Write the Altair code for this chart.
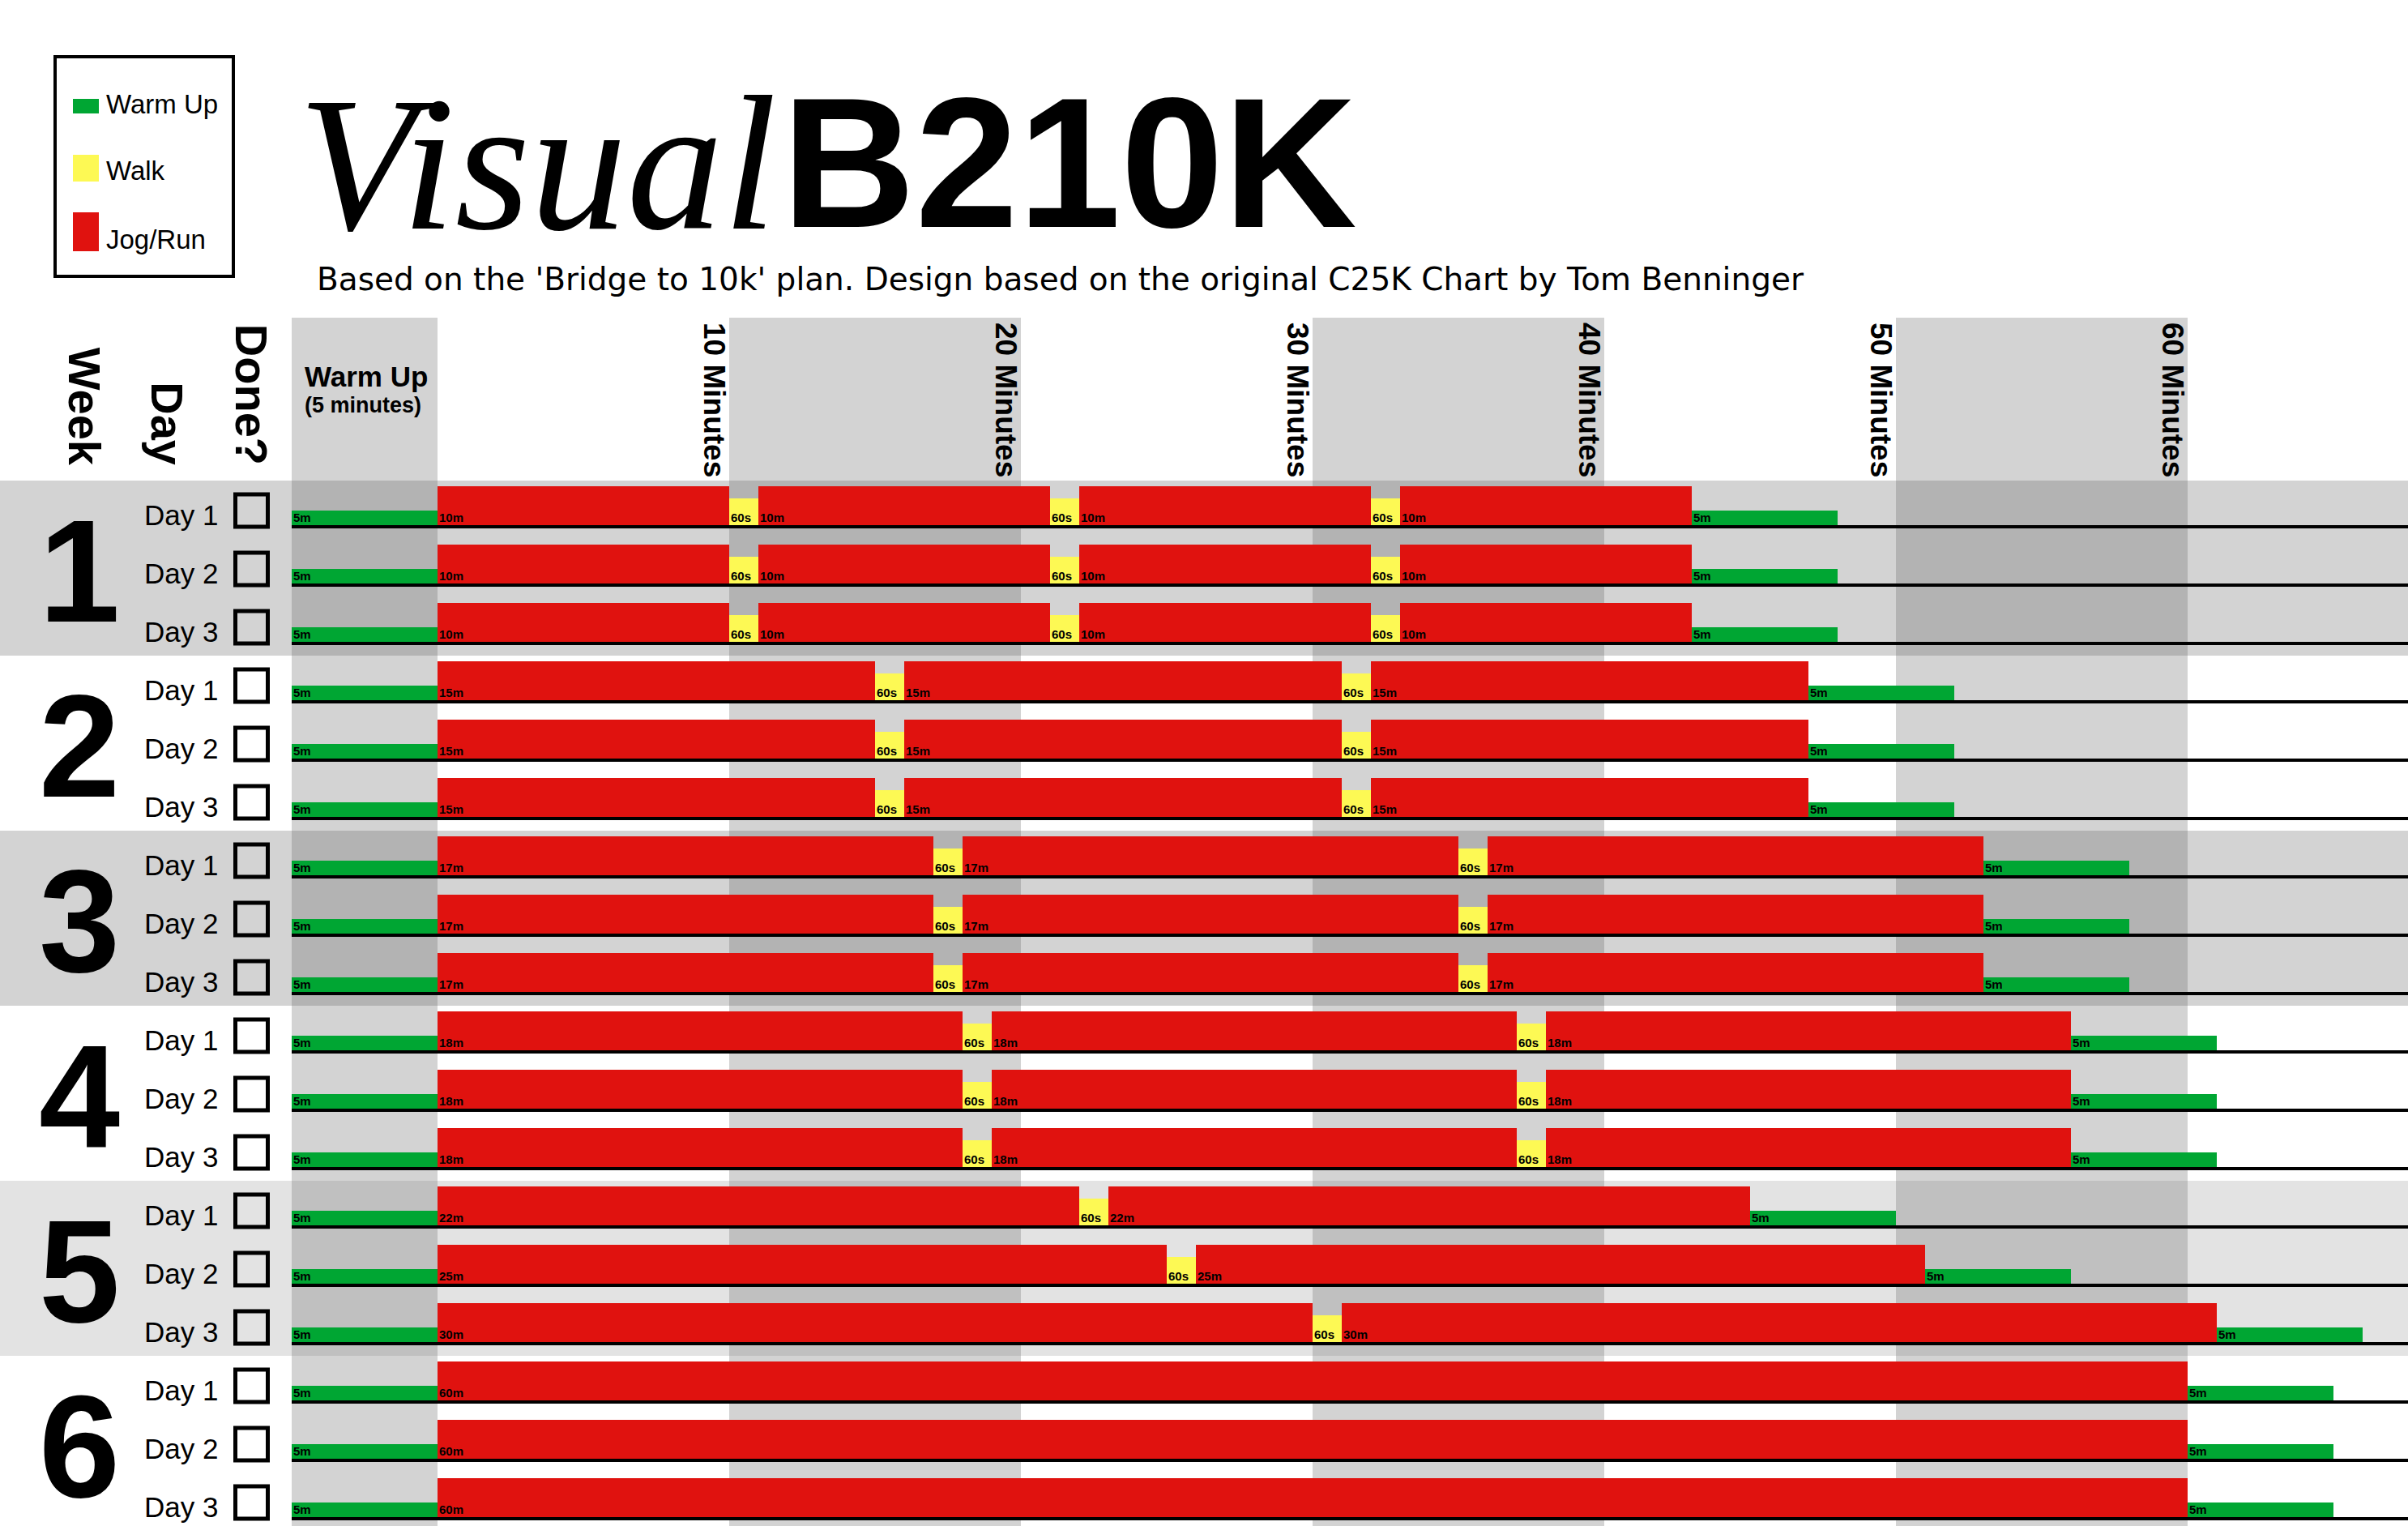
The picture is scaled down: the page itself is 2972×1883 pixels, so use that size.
import altair as alt
import pandas as pd

# ------------------------------------------------------------------ data
WEEKS = [1, 2, 3, 4, 5, 6]
DAY_LABELS = ["Day 1", "Day 2", "Day 3"]
SEGMENT_TYPES = ["Warm Up", "Walk", "Jog/Run"]
SEGMENT_COLORS = ["#00a633", "#fdf954", "#e0120f"]
WARMUP_MINUTES = 5
COOLDOWN_MINUTES = 5
WALK_MINUTES = 1
WALK_LABEL = "60s"
W1_RUNS = [10, 10, 10, 10]
W2_RUNS = [15, 15, 15]
W3_RUNS = [17, 17, 17]
W4_RUNS = [18, 18, 18]
W5_DAY1_RUNS = [22, 22]
W5_DAY2_RUNS = [25, 25]
W5_DAY3_RUNS = [30, 30]
W6_RUNS = [60]
SCHEDULE = [
    [W1_RUNS, W1_RUNS, W1_RUNS],
    [W2_RUNS, W2_RUNS, W2_RUNS],
    [W3_RUNS, W3_RUNS, W3_RUNS],
    [W4_RUNS, W4_RUNS, W4_RUNS],
    [W5_DAY1_RUNS, W5_DAY2_RUNS, W5_DAY3_RUNS],
    [W6_RUNS, W6_RUNS, W6_RUNS],
]
MINUTE_MARKS = [10, 20, 30, 40, 50, 60]
SHADED_COLUMN_STARTS = [-5, 10, 30, 50]
SHADED_COLUMN_ENDS = [0, 20, 40, 60]
SHADED_WEEKS = [1, 3, 5]
HEADER_WORDS = ["Week", "Day", "Done?"]
WARMUP_HEADER = ["Warm Up", "(5 minutes)"]
TITLE_SCRIPT = "Visual"
TITLE_BOLD = "B210K"
SUBTITLE = ("Based on the 'Bridge to 10k' plan. Design based on the "
            "original C25K Chart by Tom Benninger")

# ------------------------------------------------------------------ layout / style
W, H = 2972, 1883
PX_PER_MIN = 36.0
X_ZERO = 540.0
ROW_PX = 72.0
BODY_TOP = 593.0
HEADER_TOP = 392.0
FONT = "Liberation Sans"
BAR_TOP_PX = {"Jog/Run": 7, "Walk": 22, "Warm Up": 37}
BAR_BOTTOM_PX = 55
LINE_PX = 57
BOX_CENTER_PX = 37
BAND_FILL = {1: "#d3d3d3", 3: "#d3d3d3", 5: "#e3e3e3"}
CROSS_FILL = {1: "#b3b3b3", 3: "#b3b3b3", 5: "#c0c0c0"}
STRIPE_FILL = "#d3d3d3"

XS = alt.Scale(domain=[-X_ZERO / PX_PER_MIN, (W - X_ZERO) / PX_PER_MIN], nice=False, zero=False)
YS = alt.Scale(domain=[-BODY_TOP / ROW_PX, (H - BODY_TOP) / ROW_PX], nice=False, zero=False,
               reverse=True)


def X(f):
    return alt.X(f, type="quantitative", scale=XS, axis=None)


def X2(f):
    return alt.X2(f)


def Y(f):
    return alt.Y(f, type="quantitative", scale=YS, axis=None)


def Y2(f):
    return alt.Y2(f)


# ------------------------------------------------------------------ tables
seg_rows, day_rows = [], []
for wi, week in enumerate(SCHEDULE):
    for di, runs in enumerate(week):
        r = wi * 3 + di
        segs = [("Warm Up", WARMUP_MINUTES, f"{WARMUP_MINUTES}m")]
        for k, m in enumerate(runs):
            if k:
                segs.append(("Walk", WALK_MINUTES, WALK_LABEL))
            segs.append(("Jog/Run", m, f"{m}m"))
        segs.append(("Warm Up", COOLDOWN_MINUTES, f"{COOLDOWN_MINUTES}m"))
        t = -WARMUP_MINUTES
        for kind, m, lab in segs:
            seg_rows.append(dict(row=r, kind=kind, start=t, end=t + m, label=lab,
                                 top=r + BAR_TOP_PX[kind] / ROW_PX,
                                 bottom=r + BAR_BOTTOM_PX / ROW_PX))
            t += m
        day_rows.append(dict(row=r, day=DAY_LABELS[di], start=-WARMUP_MINUTES,
                             line=r + LINE_PX / ROW_PX,
                             base=r + BAR_BOTTOM_PX / ROW_PX,
                             box=r + BOX_CENTER_PX / ROW_PX))
segs_df = pd.DataFrame(seg_rows)
days_df = pd.DataFrame(day_rows)

weeks_df = pd.DataFrame(dict(week=[str(w) for w in WEEKS],
                             y0=[i * 3 for i in range(len(WEEKS))],
                             y1=[i * 3 + 3 for i in range(len(WEEKS))],
                             mid=[i * 3 + 1.5 for i in range(len(WEEKS))]))
cols_df = pd.DataFrame(dict(c0=SHADED_COLUMN_STARTS, c1=SHADED_COLUMN_ENDS))

band_rows, cross_rows = [], []
for w in SHADED_WEEKS:
    i = WEEKS.index(w)
    band_rows.append(dict(y0=i * 3, y1=i * 3 + 3, fill=BAND_FILL[w]))
    for c0, c1 in zip(SHADED_COLUMN_STARTS, SHADED_COLUMN_ENDS):
        cross_rows.append(dict(y0=i * 3, y1=i * 3 + 3, c0=c0, c1=c1, fill=CROSS_FILL[w]))
bands_df = pd.DataFrame(band_rows)
cross_df = pd.DataFrame(cross_rows)
marks_df = pd.DataFrame(dict(minute=MINUTE_MARKS, label=[f"{m} Minutes" for m in MINUTE_MARKS]))
one = pd.DataFrame({"a": [0]})

layers = []

# column stripes (header + body)
layers.append(alt.Chart(cols_df).mark_rect(color=STRIPE_FILL).encode(
    x=X("c0"), x2=X2("c1"), y=alt.value(HEADER_TOP), y2=alt.value(H)))
# week bands
layers.append(alt.Chart(bands_df).mark_rect().encode(
    x=alt.value(0), x2=alt.value(W), y=Y("y0"), y2=Y2("y1"),
    color=alt.Color("fill:N", scale=None)))
# band x stripe intersections
layers.append(alt.Chart(cross_df).mark_rect().encode(
    x=X("c0"), x2=X2("c1"), y=Y("y0"), y2=Y2("y1"),
    color=alt.Color("fill:N", scale=None)))

# workout bars
layers.append(alt.Chart(segs_df).mark_rect().encode(
    x=X("start"), x2=X2("end"), y=Y("top"), y2=Y2("bottom"),
    color=alt.Color("kind:N", scale=alt.Scale(domain=SEGMENT_TYPES, range=SEGMENT_COLORS),
                    legend=None)))
# row baselines
layers.append(alt.Chart(days_df).mark_rule(color="black", strokeWidth=4).encode(
    x=X("start"), x2=alt.value(W), y=Y("line")))
# segment labels
layers.append(alt.Chart(segs_df).mark_text(
    align="left", baseline="alphabetic", dx=2, dy=-4, fontSize=15, fontWeight="bold",
    font=FONT, color="black").encode(x=X("start"), y=Y("bottom"), text="label:N"))

# week numbers
layers.append(alt.Chart(weeks_df).mark_text(
    align="center", baseline="alphabetic", dy=66, fontSize=180, fontWeight="bold",
    font=FONT, color="black").encode(x=alt.value(98), y=Y("mid"), text="week:N"))
# day labels
layers.append(alt.Chart(days_df).mark_text(
    align="left", baseline="alphabetic", fontSize=35, font=FONT, color="black").encode(
    x=alt.value(178), y=Y("base"), text="day:N"))
# checkboxes
layers.append(alt.Chart(days_df).mark_point(
    shape="square", filled=False, size=1600, strokeWidth=5, color="black", opacity=1).encode(
    x=alt.value(310.5), y=Y("box")))

# minute headers
layers.append(alt.Chart(marks_df).mark_text(
    angle=90, align="left", baseline="alphabetic", fontSize=37, fontWeight="bold",
    font=FONT, color="black").encode(
    x=X("minute"), xOffset=alt.value(-31), y=alt.value(398), text="label:N"))
# Week / Day / Done? headers
for word, xp in zip(HEADER_WORDS, [85, 187, 291]):
    layers.append(alt.Chart(one).mark_text(
        angle=90, align="right", baseline="alphabetic", fontSize=56, fontWeight="bold",
        font=FONT, color="black", text=word).encode(x=alt.value(xp), y=alt.value(574)))
# warm-up header
wu_df = pd.DataFrame(dict(start=[-WARMUP_MINUTES]))
for txt, yp, fs in zip(WARMUP_HEADER, [477, 509], [35, 27]):
    layers.append(alt.Chart(wu_df).mark_text(
        align="left", baseline="alphabetic", dx=16, fontSize=fs, fontWeight="bold",
        font=FONT, color="black", text=txt).encode(x=X("start"), y=alt.value(yp)))

# title
layers.append(alt.Chart(one).mark_text(
    align="left", baseline="alphabetic", fontSize=238, fontStyle="italic",
    font="Liberation Serif", color="black", text=TITLE_SCRIPT).encode(
    x=alt.value(368), y=alt.value(282)))
layers.append(alt.Chart(one).mark_text(
    align="left", baseline="alphabetic", fontSize=228, fontWeight="bold",
    font=FONT, color="black", text=TITLE_BOLD).encode(
    x=alt.value(965), y=alt.value(280)))
layers.append(alt.Chart(one).mark_text(
    align="left", baseline="alphabetic", fontSize=39,
    font="DejaVu Sans", color="black", text=SUBTITLE).encode(
    x=alt.value(391), y=alt.value(358)))

# legend box
layers.append(alt.Chart(one).mark_rect(
    fillOpacity=0, stroke="black", strokeWidth=4).encode(
    x=alt.value(68), x2=alt.value(288), y=alt.value(70), y2=alt.value(341)))
LEG_BOTTOMS = [140, 224, 310]
LEG_BASES = [140, 222, 307]
for kind, col, bot, base in zip(SEGMENT_TYPES, SEGMENT_COLORS, LEG_BOTTOMS, LEG_BASES):
    hgt = BAR_BOTTOM_PX - BAR_TOP_PX[kind]
    layers.append(alt.Chart(one).mark_rect(color=col).encode(
        x=alt.value(90), x2=alt.value(122), y=alt.value(bot - hgt), y2=alt.value(bot)))
    layers.append(alt.Chart(one).mark_text(
        align="left", baseline="alphabetic", fontSize=33, font=FONT, color="black",
        text=kind).encode(x=alt.value(131), y=alt.value(base)))

chart = alt.layer(*layers).properties(
    width=W, height=H, padding=0, autosize=alt.AutoSizeParams(type="none"),
    background="white",
).configure_view(stroke=None)

chart.save("out.html", embed_options={"renderer": "svg", "actions": False})
